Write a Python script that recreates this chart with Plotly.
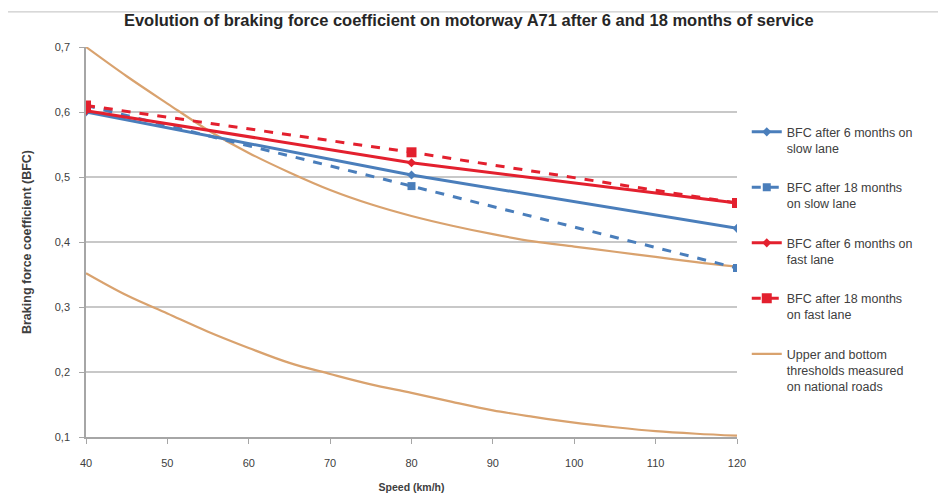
"""Braking force coefficient on motorway A71 after 6 and 18 months of service."""

import plotly.graph_objects as go

# Speeds (km/h) at which BFC was measured
speed_meas = [40, 80, 120]

bfc_6m_slow = [0.600, 0.503, 0.421]
bfc_18m_slow = [0.610, 0.486, 0.360]
bfc_6m_fast = [0.602, 0.522, 0.460]
bfc_18m_fast = [0.610, 0.538, 0.460]

# Threshold curves every 5 km/h
speed_thr = [40, 45, 50, 55, 60, 65, 70, 75, 80, 85, 90, 95, 100, 105, 110, 115, 120]
upper_thr = [0.700, 0.655, 0.613, 0.572, 0.537, 0.507, 0.480, 0.458, 0.440,
             0.425, 0.412, 0.401, 0.393, 0.385, 0.377, 0.369, 0.362]
lower_thr = [0.352, 0.318, 0.290, 0.262, 0.237, 0.214, 0.197, 0.181, 0.168,
             0.154, 0.141, 0.131, 0.122, 0.115, 0.109, 0.105, 0.102]

x_ticks = [40, 50, 60, 70, 80, 90, 100, 110, 120]
y_ticks = [0.1, 0.2, 0.3, 0.4, 0.5, 0.6, 0.7]

BLUE = '#4A7EBB'
RED = '#E3202E'
ORANGE = '#D9A26E'
FONT = 'Liberation Sans, Arial, sans-serif'

fig = go.Figure()

# Thresholds drawn first so they sit beneath the measured lines
fig.add_trace(go.Scatter(
    x=speed_thr, y=upper_thr, mode='lines',
    line=dict(color=ORANGE, width=2.2, shape='spline'),
    name='Upper and bottom<br>thresholds measured<br>on national roads',
    legendgroup='thr', legendrank=5
))
fig.add_trace(go.Scatter(
    x=speed_thr, y=lower_thr, mode='lines',
    line=dict(color=ORANGE, width=2.2, shape='spline'),
    legendgroup='thr', showlegend=False
))

series = [
    ('BFC after 6 months on<br>slow lane', bfc_6m_slow, BLUE, 'solid', 'diamond', 7, 1),
    ('BFC after 18 months<br>on slow lane', bfc_18m_slow, BLUE, 'dash', 'square', 8, 2),
    ('BFC after 6 months on<br>fast lane', bfc_6m_fast, RED, 'solid', 'diamond', 7, 3),
    ('BFC after 18 months<br>on fast lane', bfc_18m_fast, RED, 'dash', 'square', 10, 4),
]
for name, ys, color, dash, symbol, size, rank in series:
    fig.add_trace(go.Scatter(
        x=speed_meas, y=ys, mode='lines+markers', name=name,
        line=dict(color=color, width=3, dash=dash),
        marker=dict(symbol=symbol, size=size, color=color),
        legendgroup=f'g{rank}', legendrank=rank
    ))

# Chart-area border (top and left edges visible in the picture)
fig.add_shape(type='line', xref='paper', yref='paper',
              x0=-0.124, x1=1.4, y0=1.09, y1=1.09,
              line=dict(color='#BFBFBF', width=1))
fig.add_shape(type='line', xref='paper', yref='paper',
              x0=-0.124, x1=-0.124, y0=-0.2, y1=1.09,
              line=dict(color='#BFBFBF', width=1))

fig.update_layout(
    width=938, height=485,
    margin=dict(l=78, r=209, t=39, b=56),
    paper_bgcolor='white', plot_bgcolor='white',
    separators=', ',
    font=dict(family=FONT, size=11, color='#404040'),
    title=dict(
        text='<b>Evolution of braking force coefficient on motorway A71 after 6 and 18 months of service</b>',
        x=0.588, xref='paper', xanchor='center', y=0.975, yanchor='middle',
        font=dict(size=16.5, color='#262626')
    ),
    legend=dict(
        x=1.015, xanchor='left', y=0.82, yanchor='top',
        font=dict(size=12.5, color='#404040'),
        tracegroupgap=20, itemwidth=30, valign='top',
        bgcolor='rgba(0,0,0,0)'
    ),
    showlegend=True
)

fig.update_xaxes(
    range=[40, 120], tickvals=x_ticks,
    showgrid=False, zeroline=False,
    showline=True, linecolor='#A6A6A6', linewidth=1.5,
    ticks='outside', ticklen=5, tickcolor='#A6A6A6',
    ticklabelstandoff=10, automargin=False,
    title=dict(text='<b>Speed (km/h)</b>', font=dict(size=10.5, color='#404040'), standoff=16)
)
fig.update_yaxes(
    range=[0.1, 0.7], tickvals=y_ticks, tickformat='.1f',
    showgrid=True, gridcolor='#C8C8C8', gridwidth=2,
    zeroline=False,
    showline=True, linecolor='#A6A6A6', linewidth=1.5,
    ticks='outside', ticklen=5, tickcolor='#A6A6A6',
    ticklabelstandoff=7, automargin=False,
    title=dict(text='<b>Braking force coefficient (BFC)</b>', font=dict(size=12.5, color='#404040'), standoff=20)
)

fig.write_html('out.html')
